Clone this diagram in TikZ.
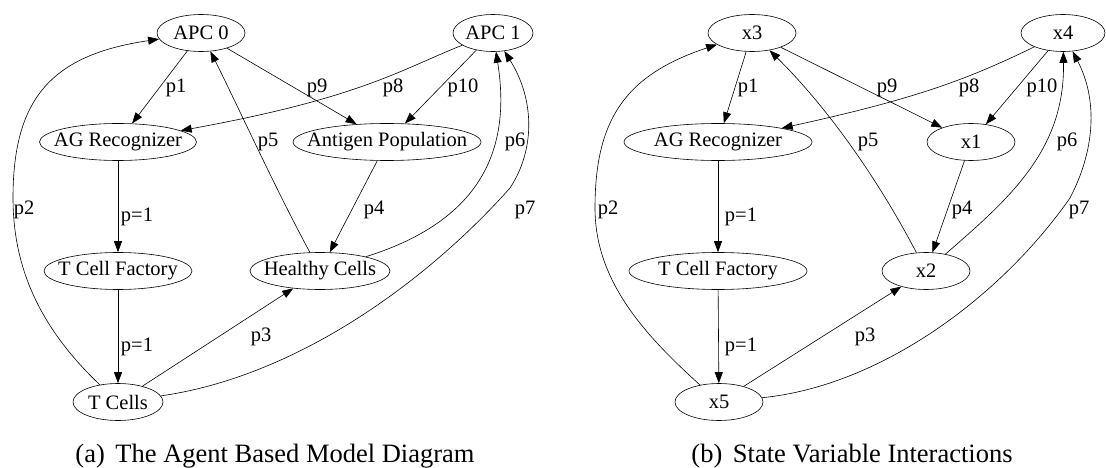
\documentclass[tikz,border=0pt]{standalone}
\usepackage{fontspec}
\setmainfont{Liberation Serif}
\usetikzlibrary{shapes.geometric,arrows.meta}
\newcommand\zw[1]{\makebox[0pt][c]{#1}}
\begin{document}
\begin{tikzpicture}[x=1pt,y=-1pt,
  st/.style={ellipse,draw,line width=0.6pt,inner sep=0pt,minimum height=37pt,font=\fontsize{20.5}{24}\selectfont},
  lab/.style={inner sep=0pt,font=\fontsize{20.5}{24}\selectfont},
  conn/.style={draw,line width=0.6pt,-{Triangle[length=11pt,width=8pt]}},
  captext/.style={inner sep=0pt,anchor=base,font=\fontsize{26.5}{30}\selectfont}]
\useasboundingbox (0,0) rectangle (1106,468);
% ---------------- left diagram ----------------
\node[st,minimum width=88pt]  (apc0) at (201,33) {\zw{APC 0}};
\node[st,minimum width=80pt]  (apc1) at (493,33) {\zw{APC 1}};
\node[st,minimum width=157pt] (agrL) at (118,142) {\zw{AG Recognizer}};
\node[st,minimum width=188pt] (ant)  at (387,142) {\zw{Antigen Population}};
\node[st,minimum width=148pt] (tcfL) at (118,271) {\zw{T Cell Factory}};
\node[st,minimum width=140pt] (hc)   at (320,271) {\zw{Healthy Cells}};
\node[st,minimum width=90pt]  (tc)   at (118,402) {\zw{T Cells}};

\draw[conn] (apc0) -- (agrL);
\draw[conn] (apc0) -- (ant);
\draw[conn] (apc1) .. controls (400,70) and (360,98) .. (agrL);
\draw[conn] (apc1) -- (ant);
\draw[conn] (agrL) -- (tcfL);
\draw[conn] (ant) -- (hc);
\draw[conn] (hc) .. controls (275,188) and (235,100) .. (apc0);
\draw[conn] (hc) .. controls (490,218) and (510,140) .. (apc1);
\draw[conn] (tc) .. controls (300,376) and (430,278) .. (510,188) .. controls (535,150) and (535,100) .. (apc1);
\draw[conn] (tc) .. controls (40,328) and (13,268) .. (13,198) .. controls (13,100) and (50,55) .. (apc0);
\draw[conn] (tc) -- (hc);
\draw[conn] (tcfL) -- (tc);

\node[lab] (l1)  at (176,88) {p1};
\node[lab] (l9)  at (317,88) {p9};
\node[lab] (l8)  at (393,88) {p8};
\node[lab] (l10) at (463,88) {p10};
\node[lab] (l5)  at (268,142) {p5};
\node[lab] (l6)  at (515,142) {p6};
\node[lab] (l2)  at (24,210) {p2};
\node[lab] (lp1) at (137,217) {p=1};
\node[lab] (l4)  at (374,210) {p4};
\node[lab] (l7)  at (525,210) {p7};
\node[lab] (lp2) at (137,347) {p=1};
\node[lab] (l3)  at (261,337) {p3};

\node[captext] (capa) at (275,462) {(a)\hspace{0.4em}The Agent Based Model Diagram};

% ---------------- right diagram ----------------
\node[st,minimum width=88pt]  (x3)   at (752,33) {\zw{x3}};
\node[st,minimum width=84pt]  (x4)   at (1063,33) {\zw{x4}};
\node[st,minimum width=188pt] (agrR) at (718,142) {\zw{AG Recognizer}};
\node[st,minimum width=88pt]  (x1)   at (971,142) {\zw{x1}};
\node[st,minimum width=178pt] (tcfR) at (718,271) {\zw{T Cell Factory}};
\node[st,minimum width=88pt]  (x2)   at (926,271) {\zw{x2}};
\node[st,minimum width=88pt]  (x5)   at (719,402) {\zw{x5}};

\draw[conn] (x3) -- (agrR);
\draw[conn] (x3) -- (x1);
\draw[conn] (x4) .. controls (970,78) and (920,98) .. (agrR);
\draw[conn] (x4) -- (x1);
\draw[conn] (agrR) -- (tcfR);
\draw[conn] (x1) -- (x2);
\draw[conn] (x2) .. controls (880,183) and (830,110) .. (x3);
\draw[conn] (x2) .. controls (1010,198) and (1065,150) .. (x4);
\draw[conn] (x5) .. controls (880,386) and (1000,298) .. (1070,198) .. controls (1095,150) and (1098,100) .. (x4);
\draw[conn] (x5) .. controls (640,331) and (595,278) .. (595,208) .. controls (595,120) and (625,75) .. (x3);
\draw[conn] (x5) -- (x2);
\draw[conn] (tcfR) -- (x5);

\node[lab] (r1)  at (748,88) {p1};
\node[lab] (r9)  at (887,88) {p9};
\node[lab] (r8)  at (969,88) {p8};
\node[lab] (r10) at (1042,88) {p10};
\node[lab] (r5)  at (868,142) {p5};
\node[lab] (r6)  at (1067,142) {p6};
\node[lab] (r2)  at (608,210) {p2};
\node[lab] (rp1) at (741,217) {p=1};
\node[lab] (r4)  at (962,210) {p4};
\node[lab] (r7)  at (1079,210) {p7};
\node[lab] (rp2) at (741,347) {p=1};
\node[lab] (r3)  at (865,337) {p3};

\node[captext] (capb) at (852,462) {(b)\hspace{0.4em}State Variable Interactions};
\end{tikzpicture}
\end{document}
